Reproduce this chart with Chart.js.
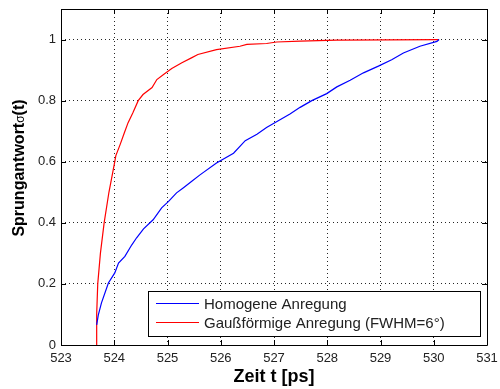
<!DOCTYPE html>
<html>
<head>
<meta charset="utf-8">
<script src="https://cdn.jsdelivr.net/npm/chart.js@4.4.1/dist/chart.umd.min.js"></script>
<style>
  html, body { margin: 0; padding: 0; background: #fff; }
  #wrap { width: 500px; height: 389px; }
</style>
</head>
<body>
<div id="wrap"><canvas id="c"></canvas></div>
<script>
// Achsen
const xTicks = [523, 524, 525, 526, 527, 528, 529, 530, 531];
const yTicks = [0, 0.2, 0.4, 0.6, 0.8, 1];
const xTitle = 'Zeit t [ps]';
const yTitleParts = ['Sprungantwort', 'σ', '(t)'];
const seriesLabels = ['Homogene Anregung', 'Gaußförmige Anregung (FWHM=6°)'];

// Homogene Anregung (blau)
const blueX = [523.67, 523.70, 523.76, 523.89, 524.01, 524.08, 524.20, 524.33, 524.42, 524.55,
  524.73, 524.89, 525.02, 525.17, 525.30, 525.45, 525.61, 525.92, 526.24, 526.46, 526.68,
  526.86, 527.08, 527.30, 527.49, 527.71, 527.99, 528.18, 528.43, 528.68, 528.96, 529.21,
  529.43, 529.74, 530.06, 530.10];
const blueY = [0.066, 0.098, 0.138, 0.203, 0.236, 0.268, 0.29, 0.328, 0.351, 0.38,
  0.41, 0.449, 0.47, 0.498, 0.515, 0.535, 0.557, 0.596, 0.628, 0.669, 0.69,
  0.712, 0.734, 0.756, 0.778, 0.80, 0.823, 0.845, 0.867, 0.891, 0.913, 0.934,
  0.956, 0.978, 0.994, 1.0];

// Gaußförmige Anregung (rot)
const redX = [523.667, 523.67, 523.69, 523.74, 523.81, 523.90, 524.01, 524.03, 524.11, 524.19,
  524.26, 524.35, 524.45, 524.54, 524.71, 524.80, 524.92, 525.08, 525.27, 525.45, 525.57,
  525.92, 526.36, 526.49, 526.86, 527.05, 527.49, 528.18, 530.10];
const redY = [0, 0.1, 0.2, 0.3, 0.40, 0.5, 0.60, 0.62, 0.656, 0.695,
  0.728, 0.76, 0.80, 0.82, 0.843, 0.869, 0.885, 0.905, 0.924, 0.94, 0.951,
  0.967, 0.978, 0.984, 0.987, 0.992, 0.995, 0.998, 1.0];

const toPoints = (xs, ys) => xs.map((x, i) => ({ x: x, y: ys[i] }));

const tickFont = { family: 'Liberation Sans, Arial, sans-serif', size: 13 };

// Rahmen, Ticks nach innen, Achsentitel und Legende im MATLAB-Stil
const matlabBox = {
  id: 'matlabBox',
  afterDatasetsDraw(chart) {
    const ctx = chart.ctx;
    const a = chart.chartArea;
    const xs = chart.scales.x, ys = chart.scales.y;
    ctx.save();
    ctx.strokeStyle = '#000';
    ctx.lineWidth = 1;
    ctx.beginPath();
    ctx.rect(Math.round(a.left) + 0.5, Math.round(a.top) + 0.5,
      Math.round(a.right - a.left), Math.round(a.bottom - a.top));
    for (const v of xTicks) {
      const px = Math.round(xs.getPixelForValue(v)) + 0.5;
      ctx.moveTo(px, a.bottom); ctx.lineTo(px, a.bottom - 5);
      ctx.moveTo(px, a.top); ctx.lineTo(px, a.top + 5);
    }
    for (const v of yTicks) {
      const py = Math.round(ys.getPixelForValue(v)) + 0.5;
      ctx.moveTo(a.left, py); ctx.lineTo(a.left + 5, py);
      ctx.moveTo(a.right, py); ctx.lineTo(a.right - 5, py);
    }
    ctx.stroke();

    // Legende
    const lx = 148.5, ly = 291.5, lw = 332, lh = 45;
    ctx.fillStyle = '#fff';
    ctx.fillRect(lx, ly, lw, lh);
    ctx.strokeRect(lx, ly, lw, lh);
    const rows = [303, 322];
    ctx.font = '15px Liberation Sans, Arial, sans-serif';
    ctx.textBaseline = 'middle';
    chart.data.datasets.forEach((ds, i) => {
      ctx.strokeStyle = ds.borderColor;
      ctx.lineWidth = 1.2;
      ctx.beginPath();
      ctx.moveTo(156, rows[i] + 0.5); ctx.lineTo(199, rows[i] + 0.5);
      ctx.stroke();
      ctx.fillStyle = '#222';
      ctx.fillText(ds.label, 204, rows[i] + 1.5);
    });

    // x-Titel
    ctx.fillStyle = '#000';
    ctx.textAlign = 'center';
    ctx.textBaseline = 'alphabetic';
    ctx.font = 'bold 18px Liberation Sans, Arial, sans-serif';
    ctx.fillText(xTitle, (a.left + a.right) / 2, 382);

    // y-Titel (gedreht)
    const fonts = ['bold 16px Liberation Sans, Arial, sans-serif',
      '12px Liberation Sans, Arial, sans-serif',
      'bold 16px Liberation Sans, Arial, sans-serif'];
    let total = 0;
    const widths = yTitleParts.map((t, i) => { ctx.font = fonts[i]; const w = ctx.measureText(t).width; total += w; return w; });
    ctx.translate(24, 168);
    ctx.rotate(-Math.PI / 2);
    ctx.textAlign = 'left';
    let pos = -total / 2;
    yTitleParts.forEach((t, i) => {
      ctx.font = fonts[i];
      ctx.fillText(t, pos, 0);
      pos += widths[i];
    });
    ctx.restore();
  }
};

new Chart(document.getElementById('c'), {
  type: 'line',
  data: {
    datasets: [
      {
        label: seriesLabels[0],
        data: toPoints(blueX, blueY),
        borderColor: '#0000ff',
        borderWidth: 1.2,
        pointRadius: 0,
        tension: 0,
        fill: false
      },
      {
        label: seriesLabels[1],
        data: toPoints(redX, redY),
        borderColor: '#ff0000',
        borderWidth: 1.2,
        pointRadius: 0,
        tension: 0,
        fill: false
      }
    ]
  },
  options: {
    responsive: true,
    maintainAspectRatio: false,
    animation: false,
    events: [],
    layout: { padding: { top: 9, right: 13, left: 0, bottom: 0 } },
    plugins: { legend: { display: false }, tooltip: { enabled: false } },
    scales: {
      x: {
        type: 'linear',
        min: 523,
        max: 531,
        afterBuildTicks: (s) => { s.ticks = xTicks.map(v => ({ value: v })); },
        afterFit: (s) => {
          s.height = 44;
          s.paddingLeft = 0; s.paddingRight = 0; s.paddingTop = 0; s.paddingBottom = 0;
        },
        ticks: { font: tickFont, color: '#222', padding: 6, maxRotation: 0, autoSkip: false },
        grid: { color: 'rgba(0,0,0,0.85)', lineWidth: 1, drawTicks: false },
        border: { display: false, dash: [1, 3] }
      },
      y: {
        type: 'linear',
        min: 0,
        max: 1.1,
        afterBuildTicks: (s) => { s.ticks = yTicks.map(v => ({ value: v })); },
        afterFit: (s) => {
          s.width = 61;
          s.paddingLeft = 0; s.paddingRight = 0; s.paddingTop = 0; s.paddingBottom = 0;
        },
        ticks: { font: tickFont, color: '#222', padding: 5, autoSkip: false, callback: (v) => String(v) },
        grid: { color: 'rgba(0,0,0,0.85)', lineWidth: 1, drawTicks: false },
        border: { display: false, dash: [1, 3] }
      }
    }
  },
  plugins: [matlabBox]
});
</script>
</body>
</html>
